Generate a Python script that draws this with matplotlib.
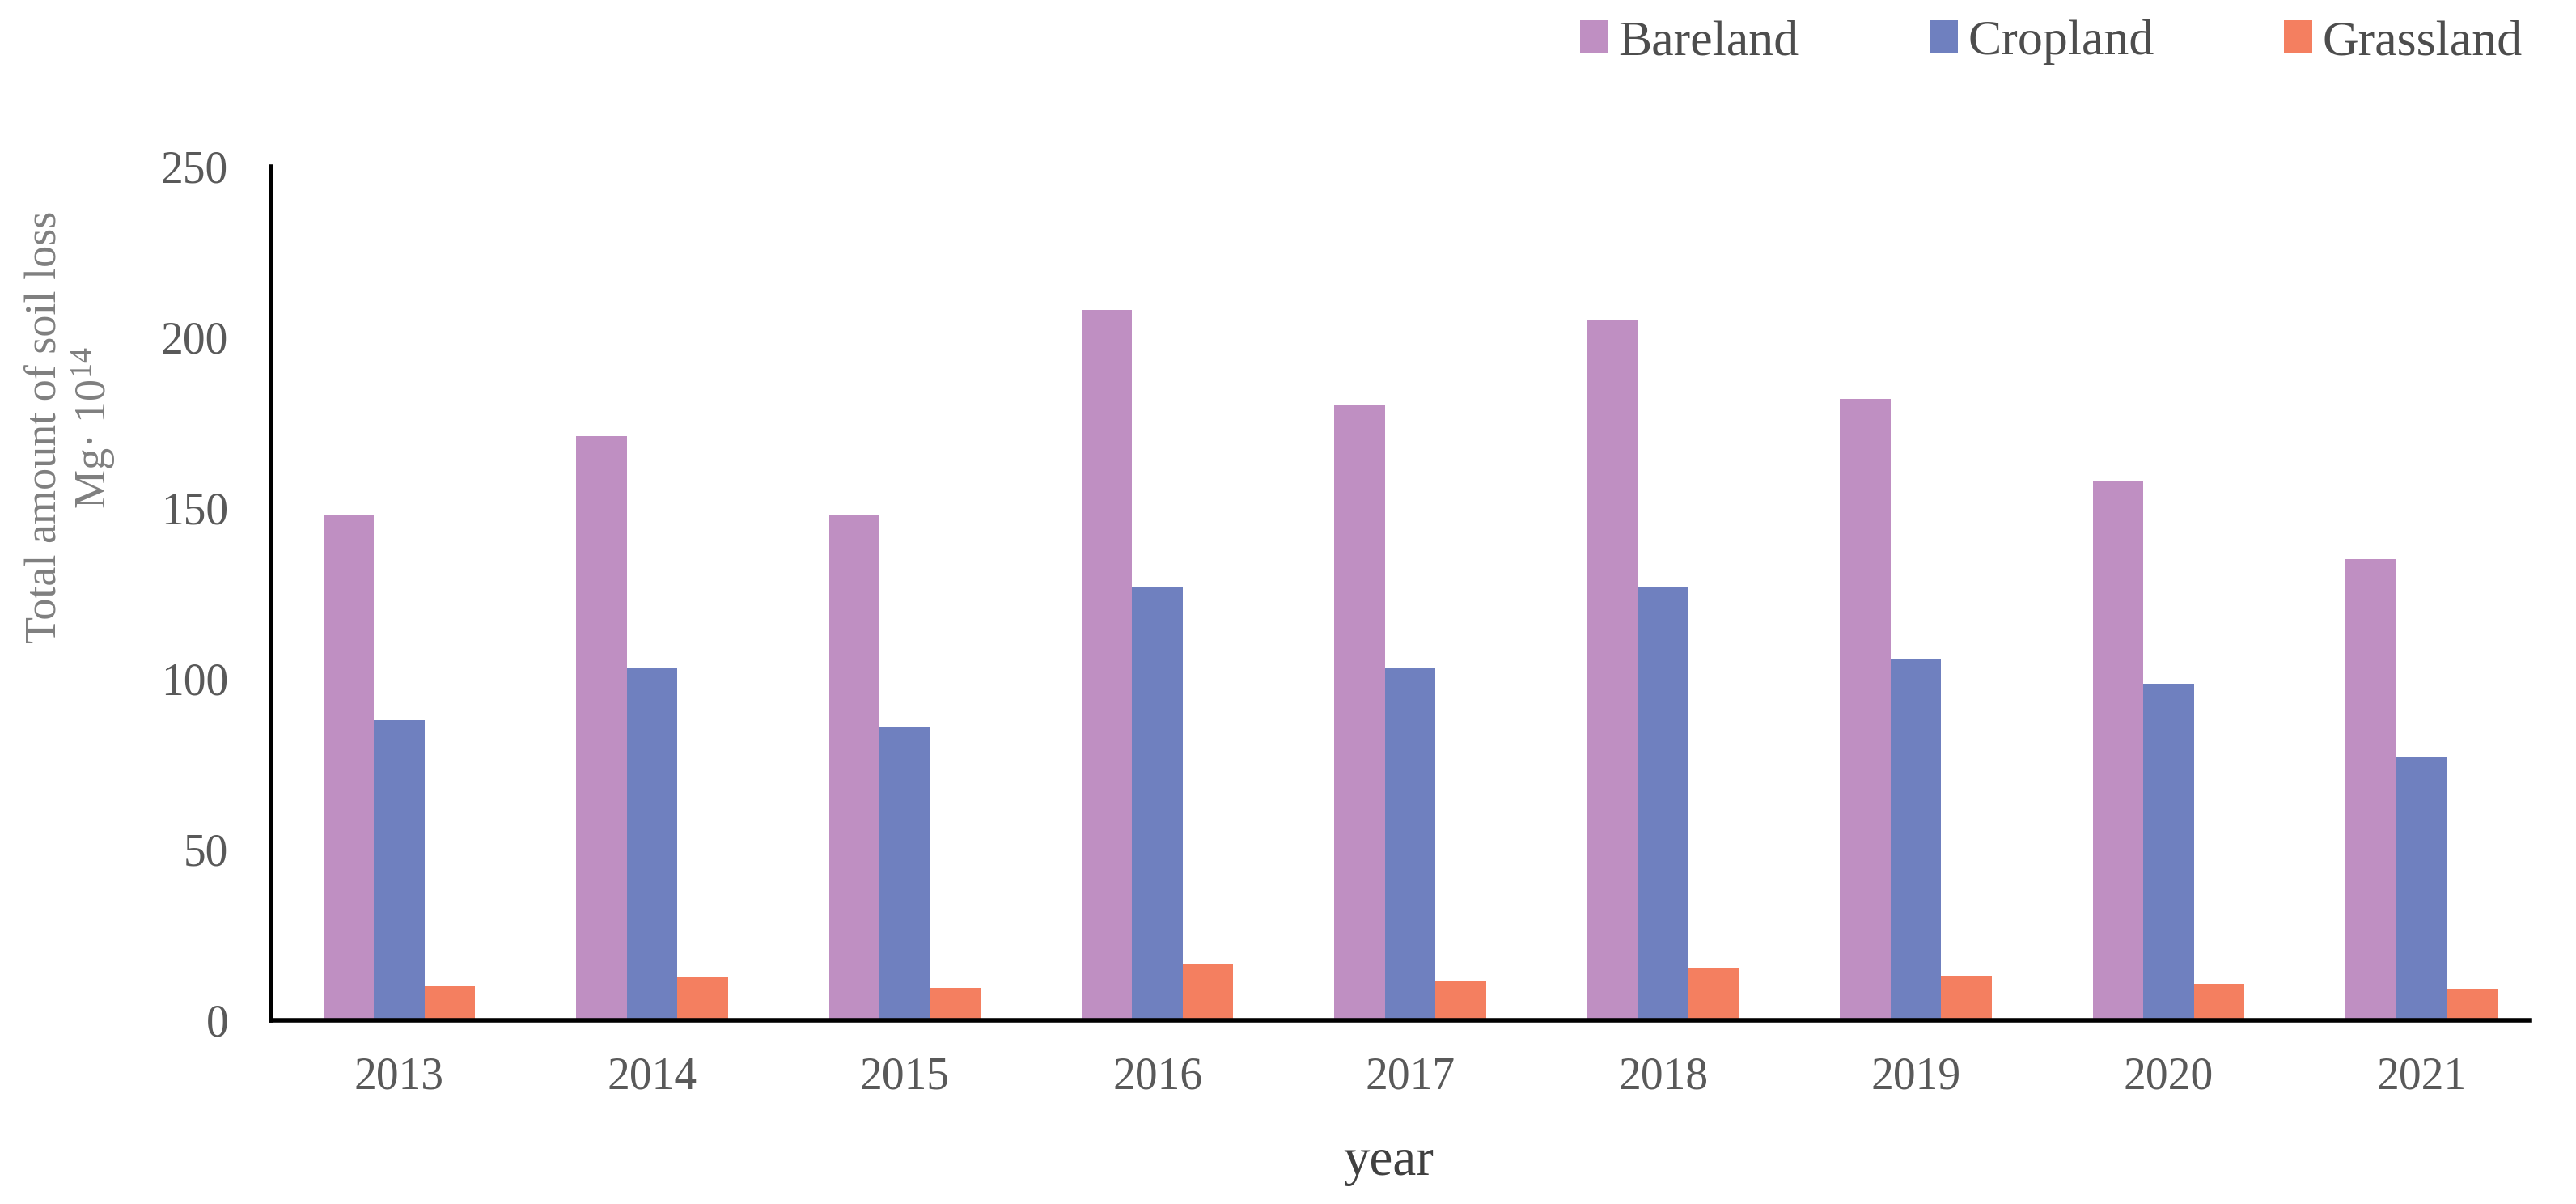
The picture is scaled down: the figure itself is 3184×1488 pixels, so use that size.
import matplotlib
matplotlib.use("Agg")
import matplotlib.pyplot as plt
from matplotlib.patches import Patch
import numpy as np

# data
years = ["2013", "2014", "2015", "2016", "2017", "2018", "2019", "2020", "2021"]
bareland = [148, 171, 148, 208, 180, 205, 182, 158, 135]
cropland = [88, 103, 86, 127, 103, 127, 106, 98.5, 77]
grassland = [10, 12.5, 9.5, 16.4, 11.6, 15.4, 13, 10.6, 9.2]

series_names = ["Bareland", "Cropland", "Grassland"]
series_colors = ["#BF8FC2", "#6F80BF", "#F47F60"]

plt.rcParams["font.family"] = "Liberation Serif"
plt.rcParams["mathtext.fontset"] = "custom"
plt.rcParams["mathtext.rm"] = "Liberation Serif"
plt.rcParams["mathtext.it"] = "Liberation Serif:italic"

fig = plt.figure(figsize=(15.92, 7.44), dpi=200)
ax = fig.add_axes([0.1052, 0.1526, 0.8766, 0.709])

x = np.arange(len(years))
width = 0.2
for i, (vals, name, color) in enumerate(zip([bareland, cropland, grassland], series_names, series_colors)):
    ax.bar(x + (i - 1) * width, vals, width=width, color=color, label=name, linewidth=0)

ax.set_xlim(-0.507, 8.426)
ax.set_ylim(0, 250)
ax.set_yticks([0, 50, 100, 150, 200, 250])
ax.set_xticks(x)
ax.set_xticklabels(years)

ax.spines["top"].set_visible(False)
ax.spines["right"].set_visible(False)
ax.spines["left"].set_linewidth(2.0)
ax.spines["bottom"].set_linewidth(2.0)
ax.tick_params(axis="both", length=0, labelsize=20, colors="#595959")
ax.tick_params(axis="y", pad=19)
ax.tick_params(axis="x", pad=16)

# axis titles
fig.text(0.539, 0.0242, "year", ha="center", va="baseline", fontsize=23.5, color="#404040")
fig.text(0.0215, 0.645, "Total amount of soil loss", rotation=90, rotation_mode="anchor",
         ha="center", va="baseline", fontsize=19.5, color="#7f7f7f")
fig.text(0.041, 0.645, "Mg· 10$^{14}$", rotation=90, rotation_mode="anchor",
         ha="center", va="baseline", fontsize=19.5, color="#7f7f7f")

handles = [Patch(facecolor=c, edgecolor="none") for c in series_colors]
fig.legend(handles, series_names, loc="center right", bbox_to_anchor=(0.9793, 0.965),
           ncol=3, frameon=False, fontsize=22.3, handlelength=0.565, handleheight=0.63,
           handletextpad=0.2, columnspacing=2.6, borderpad=0, borderaxespad=0,
           labelcolor="#4d4d4d")

fig.savefig("out.png", dpi=200, facecolor="white")
